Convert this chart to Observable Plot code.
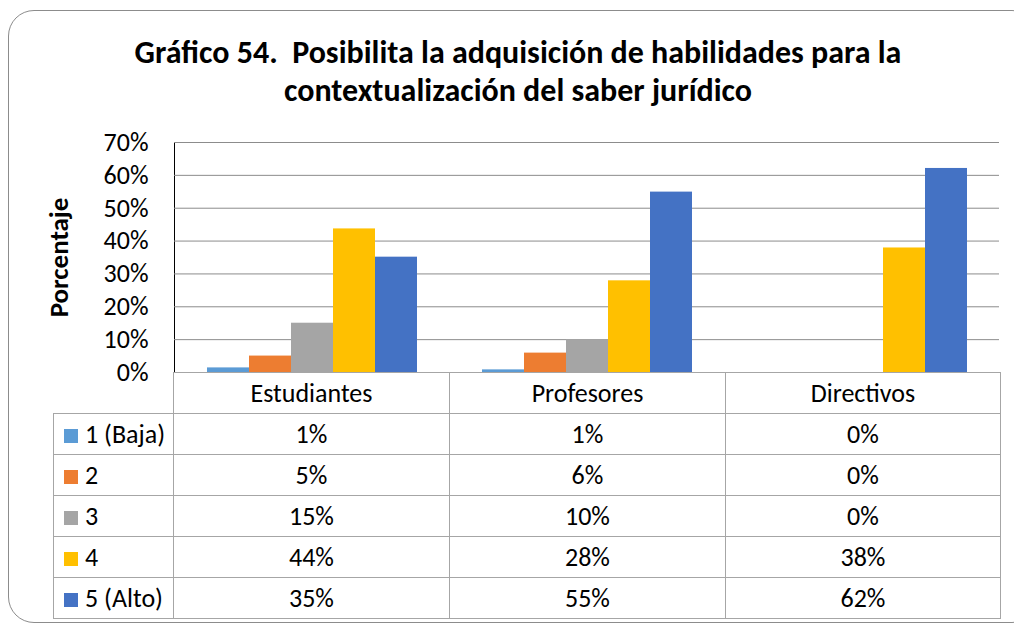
<!DOCTYPE html>
<html>
<head>
<meta charset="utf-8">
<script src="https://cdn.jsdelivr.net/npm/d3@7"></script>
<script src="https://cdn.jsdelivr.net/npm/@observablehq/plot@0.6"></script>
<style>
  html, body { margin: 0; padding: 0; background: #fff; overflow: hidden; }
  #wrap { position: relative; width: 1014px; height: 626px; overflow: hidden; font-family: Carlito, Lato, sans-serif; }
  #frame { position: absolute; left: 8px; top: 10px; width: 1030px; height: 613px; border: 1px solid #8c8c8c; border-radius: 26px; box-sizing: border-box; }
  #title { position: absolute; left: 18px; top: 34px; width: 1000px; text-align: center; font-weight: bold; font-size: 32px; line-height: 38px; color: #000; }
  #chart { position: absolute; left: 0; top: 120px; }
  #chart svg { overflow: visible; }
  #chart g[aria-label="y-axis label"] text { font-weight: bold; font-size: 27px; }
  #tbl { position: absolute; left: 53px; top: 372px; border-collapse: collapse; font-size: 26px; color: #000; table-layout: fixed; }
  #tbl td { border: 1px solid #a6a6a6; padding: 0; height: 41px; text-align: center; box-sizing: border-box; line-height: 30px; }
  #tbl td.blank { border-left: none; border-top: none; border-bottom: 1px solid #a6a6a6; }
  #tbl td.leg { text-align: left; padding-left: 10px; white-space: nowrap; }
  #tbl .key { display: inline-block; width: 14px; height: 14px; margin-right: 7px; vertical-align: 0px; }
</style>
</head>
<body>
<div id="wrap">
  <div id="frame"></div>
  <div id="title">Gráfico 54.&nbsp; Posibilita la adquisición de habilidades para la<br>contextualización del saber jurídico</div>
  <div id="chart"></div>
  <table id="tbl"></table>
</div>
<script>
const groups = ["Estudiantes", "Profesores", "Directivos"];
const series = ["1 (Baja)", "2", "3", "4", "5 (Alto)"];
const colors = ["#5B9BD5", "#ED7D31", "#A5A5A5", "#FFC000", "#4472C4"];
const estudiantes = [0.014, 0.050, 0.150, 0.437, 0.351];
const profesores  = [0.008, 0.059, 0.100, 0.279, 0.549];
const directivos  = [0.000, 0.000, 0.000, 0.379, 0.621];
const yTicks = [0, 0.1, 0.2, 0.3, 0.4, 0.5, 0.6, 0.7];

const byGroup = [estudiantes, profesores, directivos];
const data = [];
groups.forEach((g, gi) => series.forEach((s, si) => data.push({group: g, serie: s, value: byGroup[gi][si]})));

const plot = Plot.plot({
  width: 1014,
  height: 258,
  marginTop: 22,
  marginBottom: 6,
  marginLeft: 173,
  marginRight: 14,
  style: {fontSize: "26px", fontFamily: "Carlito, Lato, sans-serif", color: "#000", background: "transparent", overflow: "visible"},
  fx: {domain: groups, padding: 0, axis: null, label: null},
  x: {domain: series, paddingInner: 0, paddingOuter: 0.76, axis: null},
  y: {domain: [0, 0.7], ticks: yTicks, tickFormat: d3.format(".0%"), tickSize: 0, tickPadding: 26,
      line: true, label: "Porcentaje", labelArrow: "none", labelAnchor: "center", labelOffset: 126},
  color: {domain: series, range: colors},
  marks: [
    Plot.gridY(yTicks, {stroke: "#8c8c8c", strokeOpacity: 1}),
    Plot.barY(data, {fx: "group", x: "serie", y: "value", fill: "serie"}),
    Plot.ruleY([0], {stroke: "#8c8c8c"})
  ]
});
document.getElementById("chart").appendChild(plot);

// data table
const tbl = document.getElementById("tbl");
const colW = [120, 276, 276, 275];
const cg = document.createElement("colgroup");
colW.forEach(w => { const c = document.createElement("col"); c.style.width = w + "px"; cg.appendChild(c); });
tbl.appendChild(cg);
const head = document.createElement("tr");
const b = document.createElement("td"); b.className = "blank"; head.appendChild(b);
groups.forEach(g => { const td = document.createElement("td"); td.textContent = g; head.appendChild(td); });
tbl.appendChild(head);
series.forEach((s, si) => {
  const tr = document.createElement("tr");
  const l = document.createElement("td"); l.className = "leg";
  const k = document.createElement("span"); k.className = "key"; k.style.background = colors[si];
  l.appendChild(k); l.appendChild(document.createTextNode(s));
  tr.appendChild(l);
  byGroup.forEach(arr => { const td = document.createElement("td"); td.textContent = Math.round(arr[si] * 100) + "%"; tr.appendChild(td); });
  tbl.appendChild(tr);
});
</script>
</body>
</html>
